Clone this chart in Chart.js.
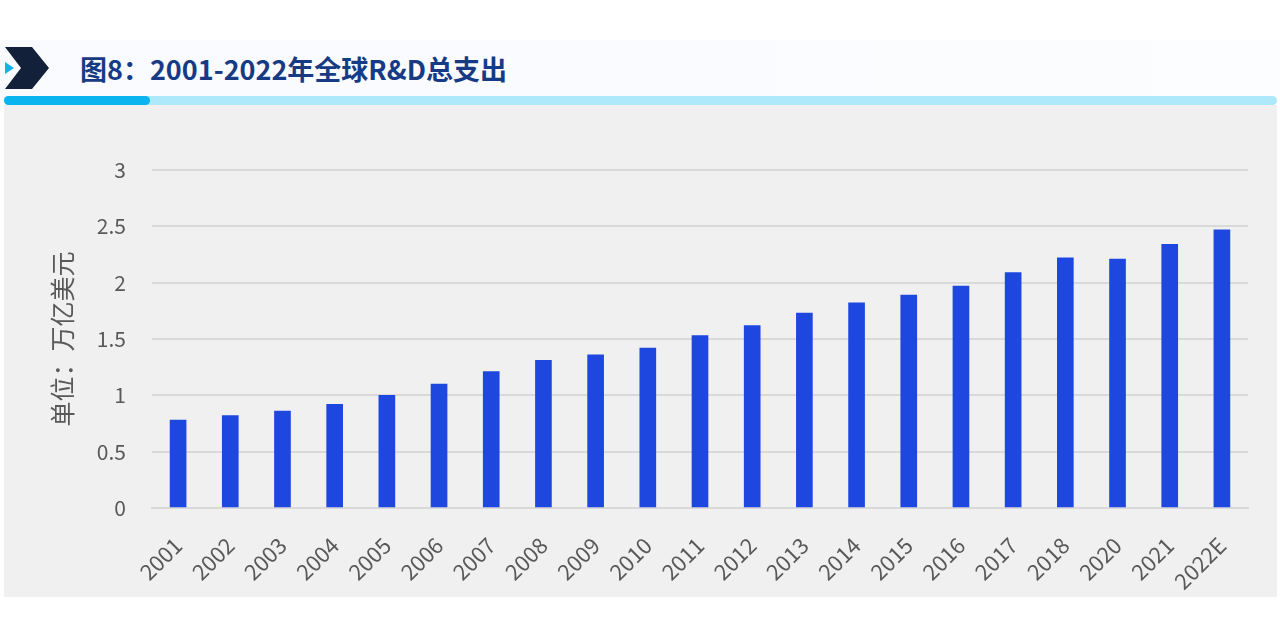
<!DOCTYPE html>
<html>
<head>
<meta charset="utf-8">
<script src="https://cdn.jsdelivr.net/npm/chart.js@4/dist/chart.umd.min.js"></script>
<style>
    body { margin: 0; width: 1280px; height: 640px; background: #ffffff; position: relative; overflow: hidden;
        font-family: "Noto Sans CJK SC", "Noto Sans", sans-serif; }
    #header { position: absolute; left: 0; top: 40px; width: 1280px; height: 56px;
        background: linear-gradient(to right, #f8fafd, #fbfdff); }
    #title { position: absolute; left: 80px; top: 49px; font-size: 27px; font-weight: 700; color: #163b84;
        line-height: 40px; }
    #barLight { position: absolute; left: 4px; top: 96px; width: 1273px; height: 9px; background: #aee8fb; border-radius: 5px; }
    #barDark { position: absolute; left: 4px; top: 96px; width: 146px; height: 9px; background: #0ab4ee; border-radius: 5px; }
    #panel { position: absolute; left: 4px; top: 105px; width: 1273px; height: 492px; background: #f0f0f0; }
    #myChart { position: absolute; left: 4px; top: 105px; }
</style>
</head>
<body>
<div id="header"></div>
<svg style="position:absolute;left:0;top:0" width="60" height="100">
    <polygon points="5,47 32,47 49,68 32,89 5,89 21,68" fill="#13203a"></polygon>
    <polygon points="5,62 14,68 5,74" fill="#12b3ea"></polygon>
</svg>
<div id="title">图8：2001-2022年全球R&amp;D总支出</div>
<div id="barLight"></div>
<div id="barDark"></div>
<div id="panel"></div>
<canvas id="myChart" width="1273" height="492"></canvas>
<script>
/******* chart data *********/
const years = ["2001", "2002", "2003", "2004", "2005", "2006", "2007", "2008", "2009", "2010", "2011",
    "2012", "2013", "2014", "2015", "2016", "2017", "2018", "2020", "2021", "2022E"];
const rdSpend = [0.78, 0.82, 0.86, 0.92, 1.00, 1.10, 1.21, 1.31, 1.36, 1.42, 1.53,
    1.62, 1.73, 1.82, 1.89, 1.97, 2.09, 2.22, 2.21, 2.34, 2.47];
const yTicks = [0, 0.5, 1, 1.5, 2, 2.5, 3];
const yTitle = "单位：万亿美元";

const fontFamily = '"Noto Sans CJK SC", "Noto Sans", sans-serif';
const gridColor = '#d9d9d9';
const labelColor = '#595959';

/******* chart creator *******/
const ctx = document.getElementById('myChart').getContext('2d');
const myChart = new Chart(ctx, {
    type: 'bar',
    data: {
        labels: years,
        datasets: [{
            data: rdSpend,
            backgroundColor: '#1e47e0',
            barThickness: 16
        }]
    },
    options: {
        responsive: false,
        animation: false,
        devicePixelRatio: 1,
        layout: {
            padding: { top: 65, right: 29, left: 0, bottom: 0 }
        },
        plugins: {
            legend: { display: false },
            tooltip: { enabled: false }
        },
        scales: {
            x: {
                grid: { display: false },
                border: { color: gridColor, width: 2 },
                ticks: {
                    minRotation: 45,
                    maxRotation: 45,
                    padding: 16,
                    color: labelColor,
                    font: { family: fontFamily, size: 22 }
                },
                afterFit: (scale) => { scale.height = 89; }
            },
            y: {
                min: 0,
                max: 3,
                afterBuildTicks: (scale) => { scale.ticks = yTicks.map(v => ({ value: v })); },
                grid: { color: gridColor, lineWidth: 2, drawTicks: false },
                border: { display: false },
                ticks: {
                    padding: 26,
                    color: labelColor,
                    font: { family: fontFamily, size: 21 },
                    callback: (value) => String(value)
                },
                title: {
                    display: true,
                    text: yTitle,
                    color: labelColor,
                    font: { family: fontFamily, size: 25 },
                    padding: { top: 43, bottom: 0 }
                },
                afterFit: (scale) => { scale.width = 148; }
            }
        }
    }
});
</script>
</body>
</html>
